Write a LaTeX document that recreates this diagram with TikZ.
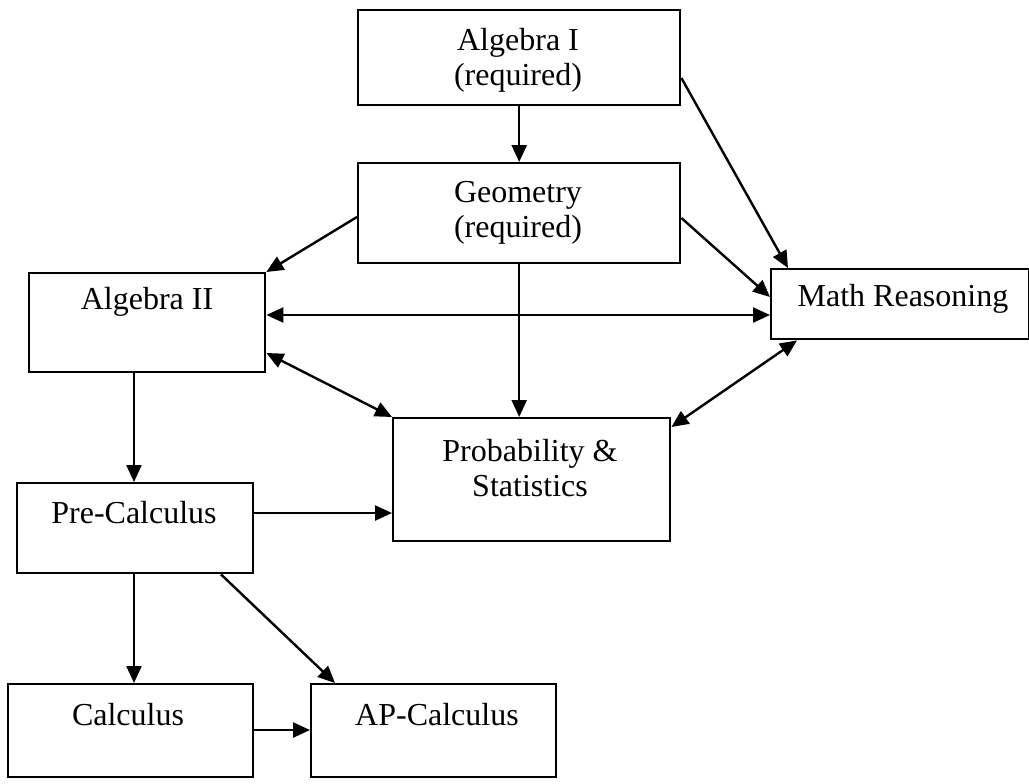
\documentclass[tikz,border=0pt]{standalone}
\usepackage{fontspec}
\setmainfont{Liberation Serif}
\usetikzlibrary{arrows.meta,calc}
\begin{document}
\begin{tikzpicture}[x=0.5pt,y=-0.5pt,
  box/.style={draw=black,line width=1.2pt,inner sep=0pt,anchor=north west},
  lbl/.style={inner sep=0pt,align=center,font=\fontsize{16}{17.5}\selectfont},
  conn/.style={line width=1.2pt,-{Triangle[length=8.5pt,width=7.5pt]}},
  both/.style={line width=1.2pt,{Triangle[length=8.5pt,width=7.5pt]}-{Triangle[length=8.5pt,width=7.5pt]}}]
\useasboundingbox (0,0) rectangle (1029,783);
% boxes
\node[box,minimum width=161pt,minimum height=47.5pt] (alg1) at (357,9) {};
\node[box,minimum width=161pt,minimum height=50pt] (geom) at (357,162) {};
\node[box,minimum width=118pt,minimum height=49.5pt] (alg2) at (28,272) {};
\node[box,minimum width=129pt,minimum height=35pt] (mr) at (770,268) {};
\node[box,minimum width=138.5pt,minimum height=61.5pt] (prob) at (392,417) {};
\node[box,minimum width=118pt,minimum height=45pt] (pre) at (16,482) {};
\node[box,minimum width=122.5pt,minimum height=46.5pt] (calc) at (7,683) {};
\node[box,minimum width=122.5pt,minimum height=46.5pt] (ap) at (310,683) {};
% labels
\node[lbl] (t1) at (518,60) {Algebra I\\(required)};
\node[lbl] (t2) at (518,213) {Geometry\\(required)};
\node[lbl] (t3) at (147,302) {Algebra II};
\node[lbl] (t4) at (903,299) {Math Reasoning};
\node[lbl] (t5) at (530,468) {Probability \&\\Statistics};
\node[lbl] (t6) at (134,513) {Pre-Calculus};
\node[lbl] (t7) at (128,715) {Calculus};
\node[lbl] (t8) at (437,715) {AP-Calculus};
% connectors
\draw[conn] (alg1.south) -- (geom.north);
\draw[conn] (alg1.east |- {(0,78)}) -- (mr.north west -| {(788,0)});
\draw[conn] (geom.west |- {(0,217)}) -- (alg2.north east);
\draw[conn] (geom.east |- {(0,218)}) -- (mr.west |- {(0,297)});
\draw[conn] (geom.south) -- (geom.south |- prob.north);
\draw[both] (alg2.east |- {(0,315)}) -- (mr.west |- {(0,315)});
\draw[both] (alg2.east |- {(0,353)}) -- (prob.north west);
\draw[both] (mr.south west -| {(797,0)}) -- (prob.east |- {(0,427)});
\draw[conn] (alg2.south -| {(134,0)}) -- (pre.north -| {(134,0)});
\draw[conn] (pre.east |- {(0,513)}) -- (prob.west |- {(0,513)});
\draw[conn] (pre.south -| {(134,0)}) -- (calc.north -| {(134,0)});
\draw[conn] (pre.south -| {(221,0)}) -- (ap.north -| {(335,0)});
\draw[conn] (calc.east |- {(0,730)}) -- (ap.west |- {(0,730)});
\end{tikzpicture}
\end{document}
